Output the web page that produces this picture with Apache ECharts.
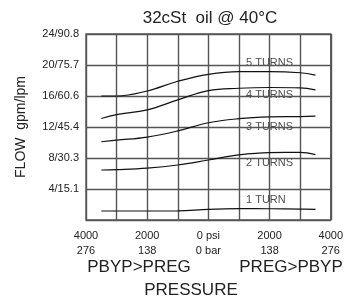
<!DOCTYPE html>
<html>
<head>
<meta charset="utf-8">
<script src="https://cdn.jsdelivr.net/npm/echarts@6/dist/echarts.min.js"></script>
<style>
  html, body { margin: 0; padding: 0; background: #fff; }
  #chart { width: 346px; height: 300px; }
</style>
</head>
<body>
<div id="chart"></div>
<script>
// pressure points (psi), negative = PBYP>PREG side
const psi = [-3500, -3000, -2000, -1000, 0, 1000, 2000, 3000, 3500];

// flow (gpm) for each setting
const turns1 = [1.16, 1.16, 1.16, 1.18, 1.38, 1.46, 1.45, 1.4, 1.38];
const turns2 = [6.45, 6.5, 6.7, 7.1, 7.74, 8.4, 8.7, 8.72, 8.43];
const turns3 = [10.1, 10.3, 10.7, 11.5, 12.55, 13.07, 13.3, 13.35, 13.4];
const turns4 = [13.1, 13.6, 14.2, 15.5, 16.7, 17.0, 17.1, 17.05, 16.8];
const turns5 = [16.0, 16.0, 16.65, 17.9, 18.8, 19.15, 19.15, 19.0, 18.7];

const seriesNames = ['1 TURN', '2 TURNS', '3 TURNS', '4 TURNS', '5 TURNS'];
const seriesValues = [turns1, turns2, turns3, turns4, turns5];
// where each curve label sits [psi, gpm]
const labelAnchors = [[1230, 2.6], [1230, 7.4], [1230, 12.05], [1230, 16.15], [1230, 20.25]];

const yTickLabels = { 4: '4/15.1', 8: '8/30.3', 12: '12/45.4', 16: '16/60.6', 20: '20/75.7', 24: '24/90.8' };
const xTickLabels = { '-4000': '4000\n276', '-2000': '2000\n138', '0': '0 psi\n0 bar', '2000': '2000\n138', '4000': '4000\n276' };

const font = 'Liberation Sans, Arial, sans-serif';
const gridColor = '#555';

const chart = echarts.init(document.getElementById('chart'));

const series = seriesValues.map((vals, i) => ({
  name: seriesNames[i],
  type: 'line',
  smooth: 0.4,
  symbol: 'none',
  lineStyle: { color: '#111', width: 1.2 },
  data: psi.map((p, j) => [p, vals[j]])
}));

// curve labels, kept under the grid lines like the printed chart
series.push({
  type: 'scatter',
  z: -1,
  symbolSize: 0,
  silent: true,
  data: labelAnchors.map((a, i) => ({ value: a, name: seriesNames[i] })),
  label: {
    show: true,
    position: 'inside',
    align: 'left',
    verticalAlign: 'middle',
    formatter: p => p.name,
    fontFamily: font,
    fontSize: 11,
    color: '#222'
  }
});

chart.setOption({
  animation: false,
  grid: {
    left: 86, right: 13, top: 34, bottom: 80,
    show: true, borderColor: gridColor, borderWidth: 1.4
  },
  xAxis: {
    type: 'value',
    min: -4000, max: 4000, interval: 1000,
    axisLine: { show: false },
    axisTick: { show: false },
    splitLine: { lineStyle: { color: gridColor, width: 1.4 } },
    axisLabel: {
      margin: 8,
      fontFamily: font, fontSize: 11, color: '#222', lineHeight: 15,
      formatter: v => xTickLabels[String(v)] || ''
    }
  },
  yAxis: {
    type: 'value',
    min: 0, max: 24, interval: 4,
    name: 'FLOW  gpm/lpm',
    nameLocation: 'middle',
    nameGap: 58,
    nameRotate: 90,
    nameTextStyle: { fontFamily: font, fontSize: 14, color: '#222' },
    axisLine: { show: false },
    axisTick: { show: false },
    splitLine: { lineStyle: { color: gridColor, width: 1.4 } },
    axisLabel: {
      margin: 7,
      fontFamily: font, fontSize: 11, color: '#222',
      formatter: v => yTickLabels[v] || ''
    }
  },
  graphic: [
    { type: 'text', x: 210, y: 18, style: { text: '32cSt  oil @ 40°C', font: '17px ' + font, fill: '#222', align: 'center', verticalAlign: 'middle' } },
    { type: 'text', x: 139, y: 267, style: { text: 'PBYP>PREG', font: '17px ' + font, fill: '#222', align: 'center', verticalAlign: 'middle' } },
    { type: 'text', x: 291, y: 267, style: { text: 'PREG>PBYP', font: '17px ' + font, fill: '#222', align: 'center', verticalAlign: 'middle' } },
    { type: 'text', x: 191, y: 290, style: { text: 'PRESSURE', font: '17px ' + font, fill: '#222', align: 'center', verticalAlign: 'middle' } }
  ],
  series: series
});
</script>
</body>
</html>
